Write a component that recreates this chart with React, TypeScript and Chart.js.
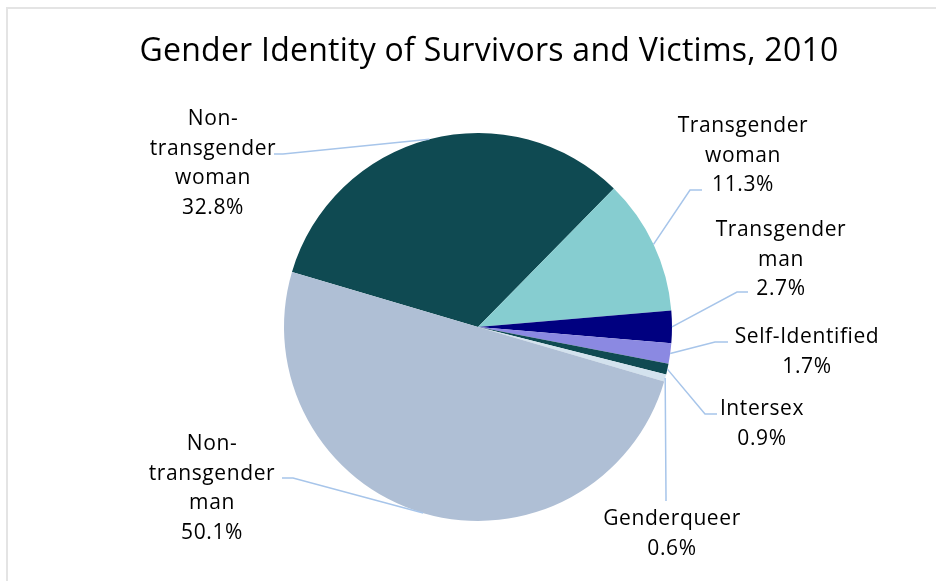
import React, { useEffect, useRef } from "react";
import { Chart, registerables } from "chart.js";

Chart.register(...registerables);

const TITLE = "Gender Identity of Survivors and Victims, 2010";
const categories = [
  "Non-transgender woman",
  "Transgender woman",
  "Transgender man",
  "Self-Identified",
  "Intersex",
  "Genderqueer",
  "Non-transgender man",
];
const values = [32.8, 11.3, 2.7, 1.7, 0.9, 0.6, 50.1];
const labelLines = [
  ["Non-", "transgender", "woman"],
  ["Transgender", "woman"],
  ["Transgender", "man"],
  ["Self-Identified"],
  ["Intersex"],
  ["Genderqueer"],
  ["Non-", "transgender", "man"],
];
const colors = ["#0F4A52", "#86CDD0", "#000080", "#8B89E2", "#0F4A52", "#D3E2EE", "#AFBFD5"];

// label layout: text centre x, first baseline y, leader end point, elbow point
const labelLayout = [
  { x: 213, y: 125, end: [274, 154], elbow: [283, 154] },
  { x: 743, y: 132, end: [702, 190], elbow: [690, 190] },
  { x: 781, y: 236, end: [748, 292], elbow: [737, 292] },
  { x: 807, y: 343, end: [728, 342], elbow: [715, 342] },
  { x: 762, y: 415, end: [717, 414], elbow: [705, 414] },
  { x: 672, y: 525, end: [666, 501], elbow: [666, 496] },
  { x: 212, y: 450, end: [282, 478], elbow: [293, 478] },
];

const FONT = "'Open Sans', sans-serif";

const decorPlugin = {
  id: "decor",
  beforeDraw(chart: any) {
    const ctx = chart.ctx;
    ctx.save();
    ctx.fillStyle = "#ffffff";
    ctx.fillRect(0, 0, chart.width, chart.height);
    ctx.strokeStyle = "#E4E4E4";
    ctx.lineWidth = 2;
    ctx.beginPath();
    ctx.moveTo(7, chart.height);
    ctx.lineTo(7, 8);
    ctx.lineTo(chart.width, 8);
    ctx.stroke();
    ctx.restore();
  },
  afterDraw(chart: any) {
    const ctx = chart.ctx;
    ctx.save();
    ctx.fillStyle = "#000000";
    ctx.textAlign = "center";
    ctx.textBaseline = "alphabetic";
    ctx.font = `32px ${FONT}`;
    (ctx as any).letterSpacing = "0.25px";
    ctx.fillText(TITLE, 489, 61);

    const meta = chart.getDatasetMeta(0);
    meta.data.forEach((arc: any, i: number) => {
      const lay = labelLayout[i];
      const mid = (arc.startAngle + arc.endAngle) / 2;
      const ax = arc.x + Math.cos(mid) * arc.outerRadius;
      const ay = arc.y + Math.sin(mid) * arc.outerRadius;
      ctx.strokeStyle = "#A7C5EA";
      ctx.lineWidth = 1.5;
      ctx.beginPath();
      ctx.moveTo(ax, ay);
      ctx.lineTo(lay.elbow[0], lay.elbow[1]);
      ctx.lineTo(lay.end[0], lay.end[1]);
      ctx.stroke();

      ctx.fillStyle = "#000000";
      ctx.font = `21px ${FONT}`;
      (ctx as any).letterSpacing = "0.6px";
      const lines = [...labelLines[i], values[i].toFixed(1) + "%"];
      lines.forEach((t, k) => {
        ctx.fillText(t, lay.x, lay.y + k * 29.5);
      });
    });
    ctx.restore();
  },
};

export default function App() {
  const ref = useRef<HTMLCanvasElement | null>(null);
  useEffect(() => {
    if (!ref.current) return;
    const chart = new Chart(ref.current, {
      type: "pie",
      data: {
        labels: categories,
        datasets: [
          {
            data: values,
            backgroundColor: colors,
            borderWidth: 0,
            hoverOffset: 0,
            offset: 0,
          },
        ],
      },
      options: {
        responsive: false,
        animation: false,
        rotation: -73.5,
        layout: { padding: { left: 284, right: 264, top: 133, bottom: 60 } },
        plugins: {
          legend: { display: false },
          title: { display: false },
          tooltip: { enabled: false },
        },
      },
      plugins: [decorPlugin],
    });
    return () => chart.destroy();
  }, []);
  return (
    <div style={{ position: "fixed", left: 0, top: 0, width: 936, height: 581 }}>
      <canvas ref={ref} width={936} height={581} />
    </div>
  );
}
